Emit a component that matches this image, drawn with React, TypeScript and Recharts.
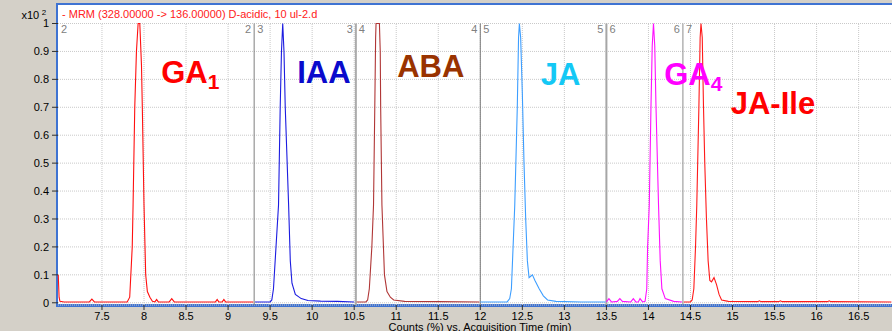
import React from 'react';
import { LineChart, Line, XAxis, YAxis, CartesianGrid, ReferenceLine, ReferenceDot } from 'recharts';

// ---------- axes ----------
const X_DOMAIN: [number, number] = [6.977, 16.897];
const Y_DOMAIN: [number, number] = [-0.008, 1];
const X_TICKS = [7.5, 8, 8.5, 9, 9.5, 10, 10.5, 11, 11.5, 12, 12.5, 13, 13.5, 14, 14.5, 15, 15.5, 16, 16.5];
const Y_TICKS = [0, 0.05, 0.1, 0.15, 0.2, 0.25, 0.3, 0.35, 0.4, 0.45, 0.5, 0.55, 0.6, 0.65, 0.7, 0.75, 0.8, 0.85, 0.9, 0.95, 1];

// ---------- traces (time in min, relative counts x10^2) ----------
const ga1Time = [6.98, 6.99, 7.0, 7.05, 7.35, 7.38, 7.41, 7.8, 7.83, 7.86, 7.87, 7.89, 7.91, 7.93, 7.95, 7.97, 7.98, 8.0, 8.02, 8.04, 8.07, 8.1, 8.13, 8.15, 8.17, 8.3, 8.33, 8.36, 8.85, 8.87, 8.89, 8.93, 8.95, 8.97, 9.3];
const ga1Value = [0.1, 0.02, 0.005, 0.003, 0.003, 0.013, 0.003, 0.003, 0.02, 0.2, 0.35, 0.7, 0.9, 1.0, 1.0, 0.85, 0.7, 0.35, 0.1, 0.04, 0.02, 0.005, 0.003, 0.012, 0.003, 0.003, 0.015, 0.003, 0.003, 0.012, 0.003, 0.003, 0.012, 0.003, 0.003];

const iaaTime = [9.32, 9.5, 9.52, 9.54, 9.57, 9.6, 9.62, 9.635, 9.65, 9.665, 9.68, 9.72, 9.74, 9.76, 9.8, 9.87, 9.95, 10.1, 10.3, 10.5];
const iaaValue = [0.003, 0.003, 0.01, 0.05, 0.2, 0.35, 0.7, 0.9, 1.0, 0.9, 0.7, 0.35, 0.15, 0.07, 0.03, 0.015, 0.008, 0.006, 0.005, 0.003];

const abaTime = [10.53, 10.64, 10.66, 10.68, 10.71, 10.73, 10.745, 10.755, 10.76, 10.8, 10.81, 10.815, 10.83, 10.86, 10.89, 10.93, 10.97, 11.1, 11.5, 11.99];
const abaValue = [0.003, 0.003, 0.01, 0.05, 0.2, 0.35, 0.7, 0.95, 1.0, 1.0, 0.9, 0.7, 0.35, 0.1, 0.04, 0.02, 0.01, 0.005, 0.004, 0.003];

const jaTime = [12.0, 12.32, 12.35, 12.37, 12.39, 12.41, 12.44, 12.455, 12.465, 12.48, 12.5, 12.52, 12.54, 12.56, 12.58, 12.6, 12.62, 12.65, 12.7, 12.75, 12.8, 12.9, 13.2, 13.49];
const jaValue = [0.003, 0.003, 0.015, 0.05, 0.2, 0.35, 0.7, 0.95, 1.0, 0.95, 0.75, 0.5, 0.3, 0.15, 0.09, 0.095, 0.1, 0.08, 0.05, 0.025, 0.01, 0.005, 0.003, 0.003];

const ga4Time = [13.5, 13.53, 13.56, 13.63, 13.66, 13.69, 13.79, 13.82, 13.85, 13.88, 13.9, 13.93, 13.96, 13.98, 13.99, 14.01, 14.03, 14.045, 14.06, 14.075, 14.09, 14.12, 14.14, 14.16, 14.2, 14.3, 14.4];
const ga4Value = [0.003, 0.015, 0.003, 0.005, 0.015, 0.005, 0.003, 0.015, 0.003, 0.003, 0.015, 0.003, 0.005, 0.05, 0.2, 0.35, 0.7, 0.92, 1.0, 0.92, 0.7, 0.35, 0.15, 0.05, 0.015, 0.005, 0.003];

const jaIleTime = [14.42, 14.5, 14.52, 14.54, 14.56, 14.575, 14.6, 14.615, 14.625, 14.64, 14.655, 14.67, 14.69, 14.71, 14.73, 14.75, 14.78, 14.81, 14.84, 14.87, 14.95, 15.3, 15.32, 15.34, 15.55, 15.57, 15.59, 16.13, 16.15, 16.17, 16.89];
const jaIleValue = [0.003, 0.003, 0.01, 0.05, 0.2, 0.35, 0.7, 0.95, 1.0, 0.95, 0.7, 0.5, 0.3, 0.15, 0.08, 0.075, 0.09, 0.065, 0.03, 0.01, 0.005, 0.004, 0.007, 0.004, 0.004, 0.007, 0.004, 0.004, 0.007, 0.004, 0.003];

// ---------- segments ----------
const segmentBreaks = [9.31, 10.52, 12.0, 13.5, 14.41];
const segmentLeftLabels = ['2', '3', '4', '5', '6'];
const segmentRightLabels = ['3', '4', '5', '6', '7'];
const firstSegmentLabel = '2';
const firstSegmentAt = 7.012;

// ---------- compound annotations ----------
const compoundNames = ['GA', 'IAA', 'ABA', 'JA', 'GA', 'JA-Ile'];
const compoundSubs = ['1', '', '', '', '4', ''];
const compoundLabelTime = [8.205, 9.822, 11.012, 12.718, 14.188, 14.979];
const compoundLabelLevel = [0.786, 0.786, 0.808, 0.78, 0.78, 0.676];

const titleText = '- MRM (328.00000 -> 136.00000) D-acidic, 10 ul-2.d';
const xAxisTitle = 'Counts (%) vs. Acquisition Time (min)';

// ---------- styles (kept separate from data) ----------
const traceColors = ['#FF1010', '#1C1CE0', '#B03636', '#3D9EFF', '#FF10FF', '#FF1A1A'];
const compoundColors = ['#FF0000', '#0A0ACC', '#993300', '#14C8F5', '#FF00FF', '#FF0000'];
const segmentColors = ['#7F7F7F', '#ABABAB', '#7A7A7A', '#A6A6A6', '#8C8C8C'];
const segmentWidths = [1, 2, 1, 2, 1];
const FONT = '"Liberation Sans", Arial, sans-serif';
const BLUE = '#3F73D2';

const toPoints = (ts: number[], vs: number[]) => ts.map((t, i) => ({ t, v: vs[i] }));
const traces = [
  toPoints(ga1Time, ga1Value),
  toPoints(iaaTime, iaaValue),
  toPoints(abaTime, abaValue),
  toPoints(jaTime, jaValue),
  toPoints(ga4Time, ga4Value),
  toPoints(jaIleTime, jaIleValue),
];

export default function App() {
  return (
    <div
      style={{
        position: 'absolute',
        left: 0,
        top: 0,
        width: 892,
        height: 331,
        background: '#D4D0C8',
        overflow: 'hidden',
        fontFamily: FONT,
      }}
    >
      <div style={{ position: 'absolute', left: 58, top: 4, width: 834, height: 301, background: '#FFFFFF' }} />
      <div style={{ position: 'absolute', left: 56, top: 3, width: 836, height: 2, background: BLUE }} />
      <div style={{ position: 'absolute', left: 56, top: 3, width: 2, height: 304, background: BLUE }} />
      <div style={{ position: 'absolute', left: 56, top: 304, width: 836, height: 3, background: BLUE }} />
      <svg style={{ position: 'absolute', left: 0, top: 0 }} width={892} height={40}>
        <text x={62} y={17.5} fill="#FF2020" fontSize={11} fontFamily={FONT}>
          {titleText}
        </text>
        <text x={21.5} y={19} fill="#000" fontSize={11} fontFamily={FONT}>
          x10
          <tspan fontSize={8} dx={2.5} dy={-4}>
            2
          </tspan>
        </text>
      </svg>
      <div style={{ position: 'absolute', left: 0, top: 0 }}>
        <LineChart width={892} height={331} margin={{ top: 23.5, right: 0, bottom: 0, left: 0 }}>
          <CartesianGrid vertical={false} stroke="#C9C9C9" strokeDasharray="1 1" />
          {X_TICKS.map((t) => (
            <ReferenceLine
              key={'vg' + t}
              segment={[
                { x: t, y: Y_DOMAIN[0] },
                { x: t, y: Y_DOMAIN[1] },
              ]}
              stroke="#C9C9C9"
              strokeDasharray="1 1"
            />
          ))}
          <XAxis
            type="number"
            dataKey="t"
            domain={X_DOMAIN}
            ticks={X_TICKS}
            height={26}
            axisLine={false}
            tickLine={{ stroke: '#303030' }}
            tickSize={5}
            tickMargin={2}
            tick={{ fill: '#000', fontSize: 11, fontFamily: FONT }}
            label={{
              content: (p: any) => {
                const vb = p.viewBox || { x: 58, y: 305, width: 834, height: 26 };
                return (
                  <text
                    x={vb.x + vb.width / 2 + 5}
                    y={vb.y + vb.height - 0.5}
                    textAnchor="middle"
                    fill="#000"
                    fontSize={11}
                    fontFamily={FONT}
                  >
                    {xAxisTitle}
                  </text>
                );
              },
            }}
          />
          <YAxis
            type="number"
            dataKey="v"
            domain={Y_DOMAIN}
            ticks={Y_TICKS}
            width={58}
            axisLine={false}
            tickLine={{ stroke: '#303030' }}
            tickSize={6}
            tickMargin={3}
            tick={{ fill: '#000', fontSize: 11, fontFamily: FONT }}
          />
          {segmentBreaks.map((t, i) => (
            <ReferenceLine
              key={'seg' + t}
              segment={[
                { x: t, y: Y_DOMAIN[0] },
                { x: t, y: Y_DOMAIN[1] },
              ]}
              stroke={segmentColors[i]}
              strokeWidth={segmentWidths[i]}
              label={{
                content: (p: any) => {
                  const vb = p.viewBox;
                  if (!vb) return null;
                  return (
                    <g fontSize={11} fontFamily={FONT} fill="#808080">
                      <text x={vb.x - 3} y={vb.y + 9} textAnchor="end">
                        {segmentLeftLabels[i]}
                      </text>
                      <text x={vb.x + 3} y={vb.y + 9} textAnchor="start">
                        {segmentRightLabels[i]}
                      </text>
                    </g>
                  );
                },
              }}
            />
          ))}
          <ReferenceDot
            x={firstSegmentAt}
            y={1}
            r={0}
            fill="none"
            stroke="none"
            label={{
              content: (p: any) => {
                const vb = p.viewBox;
                if (!vb) return null;
                return (
                  <text x={vb.x} y={vb.y + 9} fontSize={11} fontFamily={FONT} fill="#808080">
                    {firstSegmentLabel}
                  </text>
                );
              },
            }}
          />
          {traces.map((d, i) => (
            <Line
              key={'tr' + i}
              data={d}
              dataKey="v"
              type="linear"
              stroke={traceColors[i]}
              strokeWidth={1.1}
              dot={false}
              activeDot={false}
              isAnimationActive={false}
            />
          ))}
          {compoundNames.map((name, i) => (
            <ReferenceDot
              key={'lab' + i}
              x={compoundLabelTime[i]}
              y={compoundLabelLevel[i]}
              r={0}
              fill="none"
              stroke="none"
              label={{
                content: (p: any) => {
                  const vb = p.viewBox;
                  if (!vb) return null;
                  return (
                    <text
                      x={vb.x}
                      y={vb.y}
                      fill={compoundColors[i]}
                      fontSize={31}
                      fontWeight="bold"
                      fontFamily={FONT}
                    >
                      {name}
                      {compoundSubs[i] ? (
                        <tspan fontSize={21} dy={6}>
                          {compoundSubs[i]}
                        </tspan>
                      ) : null}
                    </text>
                  );
                },
              }}
            />
          ))}
        </LineChart>
      </div>
    </div>
  );
}
